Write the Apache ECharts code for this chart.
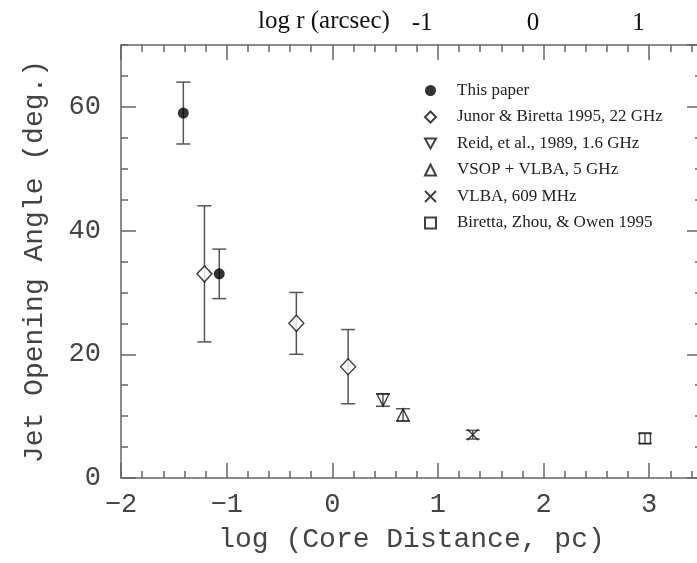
<!DOCTYPE html>
<html>
<head>
<meta charset="utf-8">
<script src="https://cdn.jsdelivr.net/npm/echarts@6/dist/echarts.min.js"></script>
<style>html,body{margin:0;padding:0;background:#fff;overflow:hidden}#c{width:697px;height:563px}</style>
</head>
<body>
<div id="c"></div>
<script>
// ---- data ----
var thisPaperX = [-1.41, -1.07];
var thisPaperY = [59, 33];
var thisPaperErr = [5, 4];

var junorX = [-1.21, -0.34, 0.15];
var junorY = [33, 25, 18];
var junorErr = [11, 5, 6];

var reidX = [0.48];
var reidY = [12.6];
var reidErr = [1.0];

var vsopX = [0.67];
var vsopY = [10.2];
var vsopErr = [1.0];

var vlbaX = [1.33];
var vlbaY = [7.0];
var vlbaErr = [0.7];

var birettaX = [2.96];
var birettaY = [6.4];
var birettaErr = [0.8];

var seriesNames = ['This paper', 'Junor & Biretta 1995, 22 GHz', 'Reid, et al., 1989, 1.6 GHz',
  'VSOP + VLBA, 5 GHz', 'VLBA, 609 MHz', 'Biretta, Zhou, & Owen 1995'];

var yTickLabels = [0, 20, 40, 60];
var xTickLabels = [-2, -1, 0, 1, 2, 3];
// top axis: log r (arcsec) labels at positions in log pc units
var topTickPos = [0.85, 1.9, 2.9];
var topTickLabels = ['-1', '0', '1'];

// ---- helpers ----
function pts(xs, ys) { return xs.map(function (x, i) { return [x, ys[i]]; }); }
function errs(xs, ys, es) { return xs.map(function (x, i) { return [x, ys[i], es[i]]; }); }

var allErr = [].concat(
  errs(thisPaperX, thisPaperY, thisPaperErr),
  errs(junorX, junorY, junorErr),
  errs(reidX, reidY, reidErr),
  errs(vsopX, vsopY, vsopErr),
  errs(vlbaX, vlbaY, vlbaErr),
  errs(birettaX, birettaY, birettaErr)
);

var axisCol = '#666';
var textCol = '#444';
var monoFont = 'Liberation Mono';
var serifFont = 'Liberation Serif';

var hollow = { color: 'none', borderColor: '#111', borderWidth: 1.4 };

function tick(len) { return { show: true, inside: true, length: len, lineStyle: { color: axisCol, width: 1.5 } }; }
function line(show) { return { show: show, onZero: false, lineStyle: { color: axisCol, width: 1.5 } }; }

function baseX(extra) {
  var o = {
    type: 'value', min: -2, max: 3.5, gridIndex: 0,
    splitLine: { show: false },
    axisLine: line(false),
    axisTick: tick(15),
    axisLabel: { show: false }
  };
  for (var k in extra) o[k] = extra[k];
  return o;
}
function baseY(extra) {
  var o = {
    type: 'value', min: 0, max: 70, gridIndex: 0,
    splitLine: { show: false },
    axisLine: line(false),
    axisTick: tick(15),
    axisLabel: { show: false }
  };
  for (var k in extra) o[k] = extra[k];
  return o;
}

var option = {
  backgroundColor: '#ffffff',
  animation: false,
  grid: { left: 121, top: 45, width: 581, height: 433, containLabel: false, outerBoundsMode: 'none' },
  xAxis: [
    baseX({
      position: 'bottom', interval: 1,
      axisLine: line(true),
      axisLabel: {
        show: true, margin: 13, color: textCol, fontFamily: monoFont, fontSize: 27,
        showMaxLabel: false,
        formatter: function (v) { return xTickLabels.indexOf(v) >= 0 ? (v < 0 ? '\u2212' + Math.abs(v) : String(v)) : ''; }
      },
      name: 'log (Core Distance, pc)', nameLocation: 'middle', nameGap: 48,
      nameTextStyle: { color: textCol, fontFamily: monoFont, fontSize: 28 }
    }),
    baseX({ position: 'bottom', interval: 0.2, axisTick: tick(7) }),
    baseX({ position: 'top', interval: 1, axisLine: line(true) }),
    baseX({ position: 'top', interval: 0.2, axisTick: tick(7) }),
    baseX({
      position: 'top', interval: 0.05,
      axisTick: { show: false },
      axisLabel: {
        show: true, margin: 9, color: '#111', fontFamily: serifFont, fontSize: 25,
        formatter: function (v) {
          for (var i = 0; i < topTickPos.length; i++) {
            if (Math.abs(v - topTickPos[i]) < 1e-6) return topTickLabels[i];
          }
          return '';
        }
      }
    })
  ],
  yAxis: [
    baseY({
      position: 'left', interval: 20,
      axisLine: line(true),
      axisLabel: {
        show: true, margin: 20, color: textCol, fontFamily: monoFont, fontSize: 27,
        showMaxLabel: false,
        formatter: function (v) { return yTickLabels.indexOf(v) >= 0 ? String(v) : ''; }
      },
      name: 'Jet Opening Angle (deg.)', nameLocation: 'middle', nameGap: 72,
      nameTextStyle: { color: textCol, fontFamily: monoFont, fontSize: 28 }
    }),
    baseY({ position: 'left', interval: 5, axisTick: tick(7) }),
    baseY({ position: 'right', interval: 20, axisLine: line(true) }),
    baseY({ position: 'right', interval: 5, axisTick: tick(7) })
  ],
  legend: {
    orient: 'vertical', left: 417.5, top: 77,
    itemWidth: 11, itemHeight: 11, itemGap: 9.5,
    data: seriesNames,
    textStyle: { color: '#222', fontFamily: serifFont, fontSize: 17, lineHeight: 14, padding: [0, 0, 0, 16] }
  },
  graphic: [
    { type: 'text', left: 258, top: 9, style: { text: 'log r (arcsec)', fill: '#111', font: '25px "Liberation Serif"' } }
  ],
  series: [
    {
      type: 'custom', name: 'errorbars', xAxisIndex: 0, yAxisIndex: 0, z: 1,
      data: allErr, encode: { x: 0, y: 1 },
      renderItem: function (params, api) {
        var x = api.value(0), y = api.value(1), e = api.value(2);
        var t = api.coord([x, y + e]);
        var b = api.coord([x, y - e]);
        var w = 7;
        var st = { stroke: '#555', lineWidth: 1.5 };
        return {
          type: 'group', children: [
            { type: 'line', shape: { x1: t[0], y1: t[1], x2: b[0], y2: b[1] }, style: st },
            { type: 'line', shape: { x1: t[0] - w, y1: t[1], x2: t[0] + w, y2: t[1] }, style: st },
            { type: 'line', shape: { x1: b[0] - w, y1: b[1], x2: b[0] + w, y2: b[1] }, style: st }
          ]
        };
      }
    },
    { type: 'scatter', name: seriesNames[0], z: 3, data: pts(thisPaperX, thisPaperY), symbol: 'circle', symbolSize: 11,
      itemStyle: { color: '#000' } },
    { type: 'scatter', name: seriesNames[1], z: 3, data: pts(junorX, junorY), symbol: 'diamond', symbolSize: [15, 16],
      itemStyle: { color: '#fff', borderColor: '#111', borderWidth: 1.4 } },
    { type: 'scatter', name: seriesNames[2], z: 3, data: pts(reidX, reidY), symbol: 'path://M0,0 L10,0 L5,9 Z', symbolSize: 12,
      itemStyle: hollow },
    { type: 'scatter', name: seriesNames[3], z: 3, data: pts(vsopX, vsopY), symbol: 'triangle', symbolSize: 12,
      itemStyle: hollow },
    { type: 'scatter', name: seriesNames[4], z: 3, data: pts(vlbaX, vlbaY), symbol: 'path://M0,0 L10,10 M10,0 L0,10', symbolSize: 11,
      itemStyle: hollow },
    { type: 'scatter', name: seriesNames[5], z: 3, data: pts(birettaX, birettaY), symbol: 'rect', symbolSize: 11,
      itemStyle: hollow }
  ]
};

var chart = echarts.init(document.getElementById('c'), null, { renderer: 'canvas' });
chart.setOption(option);
</script>
</body>
</html>
